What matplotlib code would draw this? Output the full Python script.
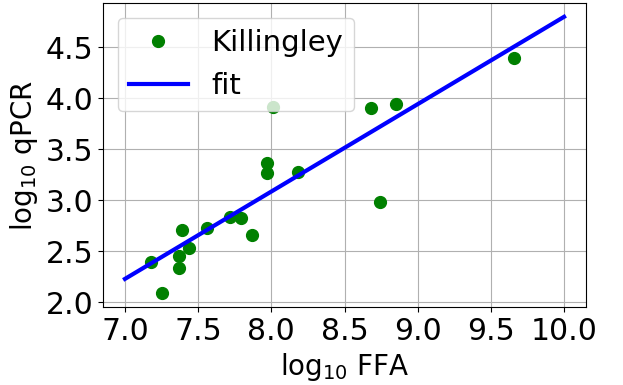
import matplotlib
matplotlib.use("Agg")
import matplotlib.pyplot as plt
import numpy as np

# log10 FFA vs log10 qPCR, Killingley samples
ffa = np.array([7.18, 7.25, 7.37, 7.37, 7.39, 7.44, 7.56, 7.72, 7.79, 7.87,
                7.97, 7.97, 8.01, 8.18, 8.68, 8.85, 8.74, 9.66])
qpcr = np.array([2.40, 2.09, 2.45, 2.34, 2.71, 2.53, 2.73, 2.84, 2.83, 2.66,
                 3.37, 3.27, 3.92, 3.28, 3.91, 3.95, 2.98, 4.40])
# fitted line end points
fit_x = np.array([7.0, 10.0])
fit_y = np.array([2.23, 4.80])

plt.rcParams["font.size"] = 21.5
fig = plt.figure(figsize=(6.23, 3.85), dpi=100)
ax = fig.add_axes([103 / 623, 78 / 385, 483 / 623, 304 / 385])

ax.plot(ffa, qpcr, "o", color="green", markersize=8.5, label="Killingley")
ax.plot(fit_x, fit_y, "-", color="blue", linewidth=3, label="fit")

ax.set_xticks([7.0, 7.5, 8.0, 8.5, 9.0, 9.5, 10.0])
ax.set_yticks([2.0, 2.5, 3.0, 3.5, 4.0, 4.5])
ax.grid(True)
ax.set_xlabel("log$_{10}$ FFA", fontsize=20)
ax.set_ylabel("log$_{10}$ qPCR", fontsize=20)
ax.legend(loc="upper left", fontsize=21)

fig.savefig("out.png", dpi=100)
